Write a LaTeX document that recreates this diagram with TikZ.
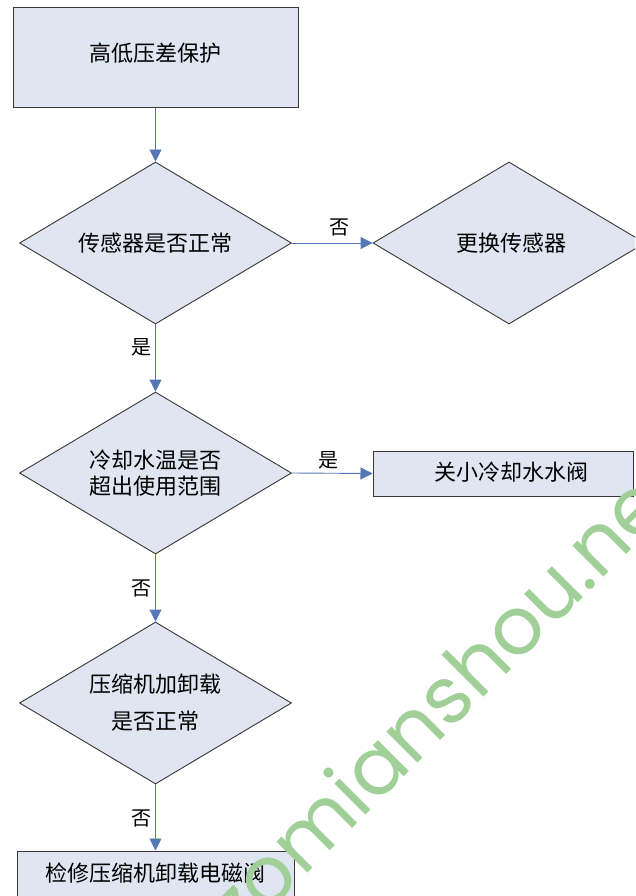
\documentclass[tikz,border=0pt]{standalone}
\usepackage{fontspec}
\setmainfont{Noto Sans CJK SC}
\newfontfamily\wmfont{Poppins}
\usetikzlibrary{shapes.geometric,arrows.meta}
\definecolor{boxfill}{HTML}{DFE5F1}
\definecolor{boxline}{HTML}{383838}
\definecolor{arrowblue}{HTML}{5577B5}
\definecolor{wmgreen}{RGB}{160,208,152}
\tikzset{
  txt/.style={font=\fontsize{22pt}{26pt}\selectfont, text=black, inner sep=0pt},
  lbl/.style={font=\fontsize{20pt}{24pt}\selectfont, text=black, inner sep=0pt},
  boxshape/.style={draw=boxline, line width=1pt, fill=boxfill, rectangle, inner sep=0pt},
  decision/.style={draw=boxline, line width=0.9pt, fill=boxfill, diamond, aspect=1.68,
    minimum width=272pt, minimum height=162pt, inner sep=1pt,
    font=\fontsize{22pt}{26pt}\selectfont, align=center},
  flow/.style={draw=arrowblue, line width=0.9pt, -{Triangle[width=12pt,length=12pt,fill=arrowblue]}}
}
\begin{document}
\begin{tikzpicture}[x=1pt,y=-1pt]
\useasboundingbox (0,0) rectangle (635,896);
\fill[white] (0,0) rectangle (635,896);
\begin{scope}
\clip (0,0) rectangle (635,896);
% top box
\node[boxshape, minimum width=285pt, minimum height=100pt] (start) at (155.5,58) {};
\node[txt] (starttxt) at (155,53) {高低压差保护};
% diamond 1
\node[decision] (d1) at (155.5,243) {传感器是否正常};
% diamond 2
\node[decision] (d2) at (509,243) {\hspace*{4pt}更换传感器};
% diamond 3
\node[decision, font=\fontsize{22pt}{26pt}\selectfont] (d3) at (155.5,473) {冷却水温是否\\超出使用范围};
% box 2
\node[boxshape, minimum width=260pt, minimum height=45pt] (b2) at (503,473.5) {};
\node[txt] (b2txt) at (511.5,472) {关小冷却水水阀};
% diamond 4
\node[decision, font=\fontsize{22pt}{37pt}\selectfont] (d4) at (155.5,703) {压缩机加卸载\\是否正常};
% bottom box
\node[boxshape, minimum width=277pt, minimum height=60pt] (b3) at (155.5,881) {};
\node[txt] (b3txt) at (155.5,873) {检修压缩机卸载电磁阀};
% connectors
\draw[flow] (start.south) -- (d1.north);
\draw[flow] (d1.east) -- (d2.west);
\draw[flow] (d1.south) -- (d3.north);
\draw[flow] (d3.east) -- (b2.west);
\draw[flow] (d3.south) -- (d4.north);
\draw[flow] (d4.south) -- (b3.north);
% labels
\node[lbl] (l1) at (339,227) {否};
\node[lbl] (l2) at (141,347) {是};
\node[lbl] (l3) at (328,460) {是};
\node[lbl] (l4) at (141,588) {否};
\node[lbl] (l5) at (141,818) {否};
% watermark
\node[font=\wmfont\fontsize{80pt}{80pt}\selectfont, text=wmgreen, rotate=45,
  anchor=base west, inner sep=0pt] (wm) at (241,940) {zomianshou.net};
\end{scope}
\end{tikzpicture}
\end{document}
